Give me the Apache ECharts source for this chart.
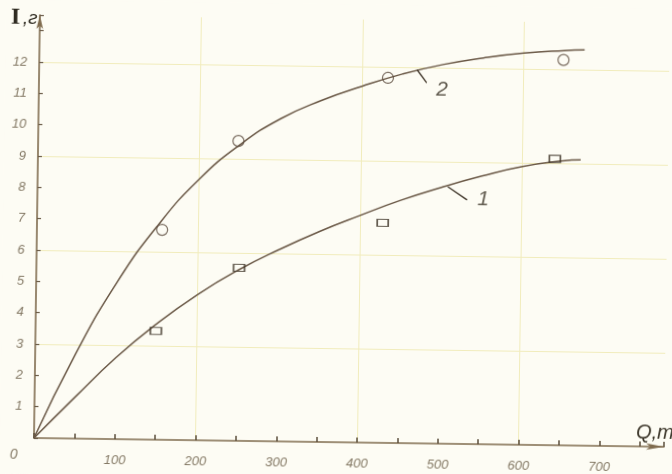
<!DOCTYPE html>
<html>
<head>
<meta charset="utf-8">
<script src="https://cdn.jsdelivr.net/npm/echarts@6/dist/echarts.min.js"></script>
<style>
html,body{margin:0;padding:0;background:#fdfcf4;overflow:hidden;}
#chart{width:672px;height:474px;transform:rotate(0.8deg);transform-origin:34px 438px;}
</style>
</head>
<body>
<div id="chart"></div>
<script>
// ---- data ----
const xTickLabels = [100, 200, 300, 400, 500, 600, 700];
const yTickLabels = [1, 2, 3, 4, 5, 6, 7, 8, 9, 10, 11, 12];

// fitted curve 2 (upper)
const curve2Q = [0, 50, 100, 150, 200, 250, 300, 350, 400, 450, 500, 550, 600, 650, 675];
const curve2I = [0, 2.70, 5.00, 6.85, 8.33, 9.45, 10.30, 10.90, 11.37, 11.78, 12.10, 12.33, 12.50, 12.60, 12.63];
// measured points 2 (circles)
const points2Q = [155, 248, 432, 649];
const points2I = [6.70, 9.57, 11.65, 12.30];

// fitted curve 1 (lower)
const curve1Q = [0, 50, 100, 150, 200, 250, 300, 350, 400, 450, 500, 550, 600, 650, 672];
const curve1I = [0, 1.32, 2.60, 3.70, 4.65, 5.45, 6.12, 6.72, 7.25, 7.75, 8.18, 8.56, 8.88, 9.08, 9.12];
// measured points 1 (squares)
const points1Q = [149, 251, 428, 640];
const points1I = [3.47, 5.52, 7.02, 9.14];

// curve labels with leader lines
const leader2Q = [468, 480];
const leader2I = [11.92, 11.51];
const label2 = {text: '2', q: 499, i: 11.29};
const leader1Q = [508, 532];
const leader1I = [8.2, 7.79];
const label1 = {text: '1', q: 552, i: 7.8};

const zip = (a, b) => a.map((v, k) => [v, b[k]]);

const inkLine = '#6a5846';
const axisCol = '#7f6b4e';
const labelCol = '#857a66';
const gridCol = '#f1ecbc';

const chart = echarts.init(document.getElementById('chart'), null, {renderer: 'canvas'});

const option = {
  backgroundColor: '#fdfcf4',
  animation: false,
  grid: {left: 34, right: 8, top: 15, bottom: 36},
  xAxis: [
    {
      type: 'value', min: 0, max: 780, interval: 50,
      axisLine: {show: true, onZero: false, lineStyle: {color: axisCol, width: 1.6},
        symbol: ['none', 'arrow'], symbolSize: [5, 18]},
      axisTick: {show: true, inside: true, length: 5, lineStyle: {color: '#5b4d3b', width: 1.5}},
      axisLabel: {
        formatter: v => xTickLabels.includes(v) ? String(v) : '',
        color: labelCol, fontStyle: 'italic', fontSize: 13, margin: 15,
        fontFamily: 'Liberation Sans'
      },
      splitLine: {show: false}
    },
    {
      type: 'value', min: 0, max: 780, interval: 200, position: 'bottom',
      axisLine: {show: false}, axisTick: {show: false}, axisLabel: {show: false},
      splitLine: {show: true, showMinLine: false, showMaxLine: false, lineStyle: {color: gridCol, width: 1}}
    }
  ],
  yAxis: [
    {
      type: 'value', min: 0, max: 13.5, interval: 1,
      axisLine: {show: true, onZero: false, lineStyle: {color: axisCol, width: 1.6},
        symbol: ['none', 'arrow'], symbolSize: [5, 14]},
      axisTick: {show: true, inside: true, length: 4, lineStyle: {color: '#6b5c48', width: 1.2}},
      axisLabel: {
        formatter: v => yTickLabels.includes(v) ? String(v) : '',
        color: labelCol, fontStyle: 'italic', fontSize: 13, margin: 12,
        fontFamily: 'Liberation Sans'
      },
      splitLine: {show: false}
    },
    {
      type: 'value', min: 0, max: 13.5, interval: 3, position: 'left',
      axisLine: {show: false}, axisTick: {show: false}, axisLabel: {show: false},
      splitLine: {show: true, showMinLine: false, showMaxLine: false, lineStyle: {color: gridCol, width: 1}}
    }
  ],
  graphic: [
    {type: 'text', left: 5, top: 6, style: {text: 'I', font: 'bold 24px "Liberation Serif"', fill: '#2e2a20'}},
    {type: 'text', left: 17, top: 9, style: {text: ',г', font: 'italic 19px "Liberation Sans"', fill: '#2e2a20'}},
    {type: 'text', left: 636, top: 414, style: {text: 'Q,т', font: 'italic 20px "Liberation Sans"', fill: '#3a3428'}},
    {type: 'text', left: 10, top: 448, style: {text: '0', font: 'italic 14px "Liberation Sans"', fill: labelCol}}
  ],
  series: [
    {
      type: 'line', name: 'curve2', data: zip(curve2Q, curve2I), smooth: 0.5,
      showSymbol: false, lineStyle: {color: inkLine, width: 1.5}, z: 3
    },
    {
      type: 'line', name: 'curve1', data: zip(curve1Q, curve1I), smooth: 0.5,
      showSymbol: false, lineStyle: {color: inkLine, width: 1.5}, z: 3
    },
    {
      type: 'scatter', name: 'points2', data: zip(points2Q, points2I), symbol: 'circle', symbolSize: 11,
      itemStyle: {color: 'rgba(0,0,0,0)', borderColor: '#5a4a3c', borderWidth: 1.2}, z: 4
    },
    {
      type: 'scatter', name: 'points1', data: zip(points1Q, points1I), symbol: 'rect', symbolSize: [11, 7],
      itemStyle: {color: 'rgba(0,0,0,0)', borderColor: '#3e3428', borderWidth: 1.4}, z: 4
    },
    {
      type: 'line', data: zip(leader2Q, leader2I), showSymbol: false,
      lineStyle: {color: '#3e3428', width: 1.3}, z: 3
    },
    {
      type: 'line', data: zip(leader1Q, leader1I), showSymbol: false,
      lineStyle: {color: '#3e3428', width: 1.3}, z: 3
    },
    {
      type: 'scatter', data: [[label2.q, label2.i, label2.text], [label1.q, label1.i, label1.text]],
      symbolSize: 0,
      label: {show: true, position: 'inside', formatter: p => p.data[2],
        fontSize: 21, fontStyle: 'italic', fontFamily: 'Liberation Sans', color: '#3a3226'}
    }
  ]
};
chart.setOption(option);
</script>
</body>
</html>
